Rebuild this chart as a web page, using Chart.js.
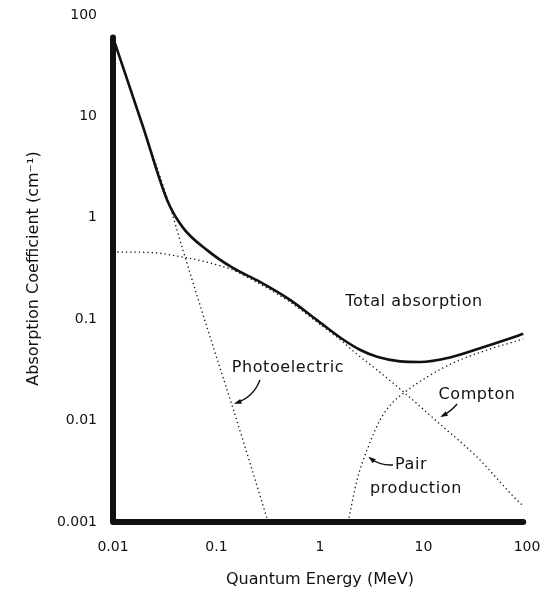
<!DOCTYPE html>
<html>
<head>
<meta charset="utf-8">
<title>Absorption Coefficient vs Quantum Energy</title>
<script src="https://cdn.jsdelivr.net/npm/chart.js@4.4.1/dist/chart.umd.min.js"></script>
<style>
  html, body { margin: 0; padding: 0; background: #fff; }
  canvas { display: block; }
</style>
</head>
<body>
<canvas id="absorptionChart" width="542" height="589"></canvas>
<script>
// energies in MeV, coefficients in cm^-1
const totalEnergy = [0.01, 0.0195, 0.0333, 0.0474, 0.081, 0.144, 0.263, 0.513, 0.935, 1.67, 2.43, 3.56, 5.93, 9.25, 18.0, 37.6, 85.5, 92];
const totalCoef   = [60, 7.9, 1.5, 0.8, 0.48, 0.32, 0.233, 0.155, 0.098, 0.0631, 0.05, 0.0426, 0.0384, 0.0379, 0.042, 0.053, 0.07, 0.072];

const photoEnergy = [0.01, 0.0195, 0.0356, 0.0474, 0.0906, 0.144, 0.211, 0.315];
const photoCoef   = [60, 7.9, 1.28, 0.48, 0.058, 0.0133, 0.0038, 0.001];

const comptonEnergy = [0.011, 0.0228, 0.0474, 0.081, 0.144, 0.263, 0.513, 0.935, 1.67, 2.26, 3.56, 6.93, 14.4, 32.9, 85.5, 92];
const comptonCoef   = [0.46, 0.455, 0.41, 0.365, 0.305, 0.222, 0.148, 0.0935, 0.0596, 0.0454, 0.0316, 0.0179, 0.00925, 0.00437, 0.00154, 0.00145];

const pairEnergy = [1.87, 2.28, 2.84, 3.80, 5.07, 6.62, 10.8, 19.3, 41.1, 85.5, 92];
const pairCoef   = [0.001, 0.0026, 0.0051, 0.0101, 0.0152, 0.0191, 0.0269, 0.037, 0.0497, 0.0624, 0.064];

const xTickValues = [0.01, 0.1, 1, 10, 100];
const xTickLabels = ['0.01', '0.1', '1', '10', '100'];
const yTickValues = [0.001, 0.01, 0.1, 1, 10, 100];
const yTickLabels = ['0.001', '0.01', '0.1', '1', '10', '100'];

// curve labels and pointer arrows, anchored in data space
const curveLabels = [
  { text: 'Total absorption', at: [8.1, 0.148], align: 'center' },
  { text: 'Photoelectric', at: [0.49, 0.033], align: 'center' },
  { text: 'Compton', at: [32.9, 0.0179], align: 'center' },
  { text: 'Pair', at: [5.3, 0.00365], align: 'left' },
  { text: 'production', at: [3.04, 0.00211], align: 'left' }
];
const pointers = [
  { from: [0.263, 0.0251], to: [0.154, 0.0149], bend: 8 },
  { from: [21.1, 0.0146], to: [15.1, 0.0111], bend: 2 },
  { from: [5.07, 0.00365], to: [3.04, 0.00428], bend: 4.5 }
];

const pairs = (xs, ys) => xs.map((x, i) => ({ x: x, y: ys[i] }));
const ink = '#111';
const fontFamily = "'DejaVu Sans', sans-serif";

const axisLines = {
  id: 'axisLines',
  afterDatasetsDraw(chart) {
    const { ctx, chartArea, scales } = chart;
    ctx.save();
    ctx.strokeStyle = ink;
    ctx.lineWidth = 6;
    ctx.lineCap = 'round';
    ctx.lineJoin = 'round';
    ctx.beginPath();
    ctx.moveTo(chartArea.left, scales.y.getPixelForValue(totalCoef[0]));
    ctx.lineTo(chartArea.left, chartArea.bottom);
    ctx.lineTo(scales.x.getPixelForValue(totalEnergy[totalEnergy.length - 1]), chartArea.bottom);
    ctx.stroke();
    ctx.restore();
  }
};

const annotations = {
  id: 'annotations',
  afterDraw(chart) {
    const { ctx, scales } = chart;
    const px = p => [scales.x.getPixelForValue(p[0]), scales.y.getPixelForValue(p[1])];
    ctx.save();
    ctx.fillStyle = ink;
    ctx.strokeStyle = ink;
    ctx.font = '16px ' + fontFamily;
    ctx.letterSpacing = '0.6px';
    ctx.textBaseline = 'middle';
    curveLabels.forEach(l => {
      const [x, y] = px(l.at);
      ctx.textAlign = l.align;
      ctx.fillText(l.text, x, y);
    });

    ctx.lineWidth = 1.4;
    pointers.forEach(a => {
      const [x0, y0] = px(a.from);
      const [x1, y1] = px(a.to);
      const dx = x1 - x0, dy = y1 - y0;
      const len = Math.hypot(dx, dy);
      const cx = (x0 + x1) / 2 + dy / len * a.bend;
      const cy = (y0 + y1) / 2 - dx / len * a.bend;
      ctx.beginPath();
      ctx.moveTo(x0, y0);
      ctx.quadraticCurveTo(cx, cy, x1, y1);
      ctx.stroke();
      // arrowhead along the end tangent
      const ang = Math.atan2(y1 - cy, x1 - cx);
      ctx.beginPath();
      ctx.moveTo(x1 + Math.cos(ang) * 2, y1 + Math.sin(ang) * 2);
      ctx.lineTo(x1 - Math.cos(ang - 0.45) * 6, y1 - Math.sin(ang - 0.45) * 6);
      ctx.lineTo(x1 - Math.cos(ang + 0.45) * 6, y1 - Math.sin(ang + 0.45) * 6);
      ctx.closePath();
      ctx.fill();
    });
    ctx.restore();
  }
};

const dotted = {
  borderColor: ink,
  borderWidth: 1.3,
  borderDash: [1.3, 3],
  pointRadius: 0,
  fill: false,
  cubicInterpolationMode: 'monotone'
};

new Chart(document.getElementById('absorptionChart'), {
  type: 'line',
  data: {
    datasets: [
      { label: 'Total absorption', data: pairs(totalEnergy, totalCoef), borderColor: ink, borderWidth: 2.6, pointRadius: 0, fill: false, cubicInterpolationMode: 'monotone' },
      Object.assign({ label: 'Photoelectric', data: pairs(photoEnergy, photoCoef) }, dotted),
      Object.assign({ label: 'Compton', data: pairs(comptonEnergy, comptonCoef) }, dotted),
      Object.assign({ label: 'Pair production', data: pairs(pairEnergy, pairCoef) }, dotted)
    ]
  },
  options: {
    responsive: false,
    animation: false,
    layout: { padding: { top: 15, right: 15, bottom: 0, left: 0 } },
    plugins: {
      legend: { display: false },
      tooltip: { enabled: false }
    },
    scales: {
      x: {
        type: 'logarithmic',
        min: 0.01,
        max: 100,
        grid: { display: false, drawTicks: false },
        border: { display: false },
        afterBuildTicks: scale => { scale.ticks = xTickValues.map(v => ({ value: v })); },
        afterFit: scale => { scale.height = 67; scale.paddingLeft = 0; scale.paddingRight = 0; },
        ticks: {
          autoSkip: false,
          maxRotation: 0,
          padding: 17,
          color: ink,
          font: { family: fontFamily, size: 14 },
          callback: (value, i) => xTickLabels[i]
        },
        title: {
          display: true,
          text: 'Quantum Energy (MeV)',
          color: ink,
          font: { family: fontFamily, size: 16 },
          padding: { top: 0, bottom: 0 }
        }
      },
      y: {
        type: 'logarithmic',
        min: 0.001,
        max: 100,
        grid: { display: false, drawTicks: false },
        border: { display: false },
        afterBuildTicks: scale => { scale.ticks = yTickValues.map(v => ({ value: v })); },
        afterFit: scale => { scale.width = 113; scale.paddingTop = 0; scale.paddingBottom = 0; },
        ticks: {
          autoSkip: false,
          padding: 16,
          color: ink,
          font: { family: fontFamily, size: 14 },
          callback: (value, i) => yTickLabels[i]
        },
        title: {
          display: true,
          text: 'Absorption Coefficient (cm⁻¹)',
          color: ink,
          font: { family: fontFamily, size: 16 },
          padding: { top: 24, bottom: 0 }
        }
      }
    }
  },
  plugins: [axisLines, annotations]
});
</script>
</body>
</html>
